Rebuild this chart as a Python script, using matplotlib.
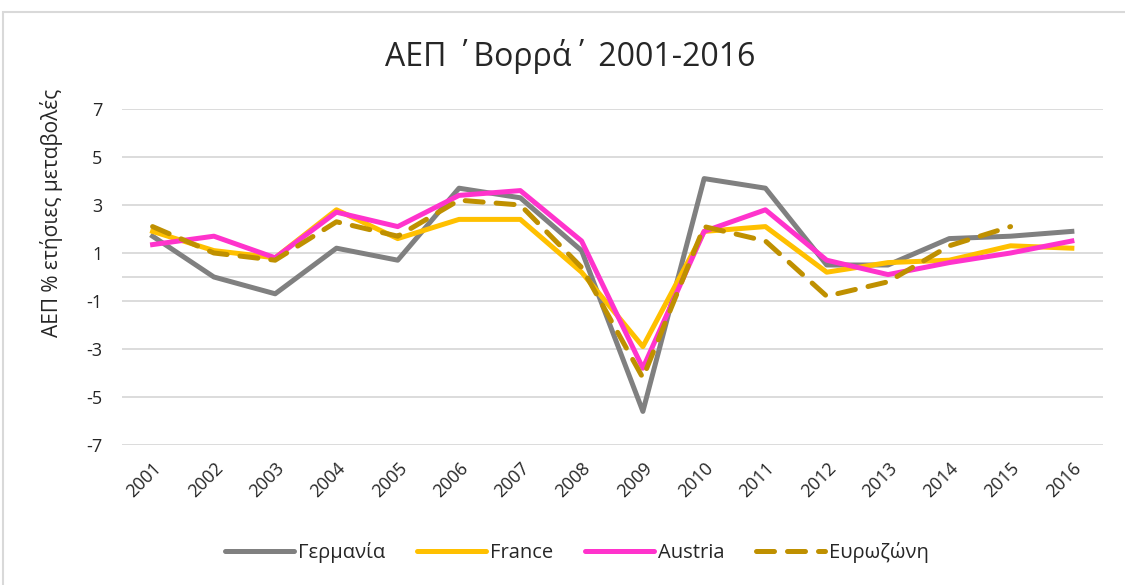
import numpy as np
import matplotlib.pyplot as plt
from matplotlib.patches import Rectangle

plt.rcParams['font.family'] = ['Open Sans', 'DejaVu Sans']

# Dati
years = [str(y) for y in range(2001, 2017)]
germany = [1.7, 0.0, -0.7, 1.2, 0.7, 3.7, 3.3, 1.1, -5.6, 4.1, 3.7, 0.5, 0.5, 1.6, 1.7, 1.9]
france = [1.9, 1.1, 0.8, 2.8, 1.6, 2.4, 2.4, 0.2, -2.9, 1.9, 2.1, 0.2, 0.6, 0.7, 1.3, 1.2]
austria = [1.35, 1.7, 0.8, 2.7, 2.1, 3.4, 3.6, 1.5, -3.8, 1.9, 2.8, 0.7, 0.1, 0.6, 1.0, 1.5]
eurozone = [2.1, 1.0, 0.7, 2.3, 1.7, 3.2, 3.0, 0.4, -4.2, 2.1, 1.5, -0.8, -0.2, 1.3, 2.1, np.nan]
yticks = [-7, -5, -3, -1, 1, 3, 5, 7]

grid_col = '#D9D9D9'
txt_col = '#262626'

fig = plt.figure(figsize=(11.25, 5.85), dpi=100)
ax = fig.add_axes([0.1084, 0.2393, 0.8716, 0.5744])

x = np.arange(len(years))
lw = 3.6
ax.plot(x, germany, color='#808080', linewidth=lw, label='Γερμανία')
ax.plot(x, france, color='#FFC000', linewidth=lw, label='France')
ax.plot(x, austria, color='#FF33CC', linewidth=lw, label='Austria')
ax.plot(x, eurozone, color='#BF9000', linewidth=lw, label='Ευρωζώνη',
        dashes=(3.6, 2.6), dash_capstyle='round')

# griglia
for v in yticks:
    ax.axhline(v, color=grid_col, linewidth=1.3, zorder=0)
ax.axhline(0, color=grid_col, linewidth=1.3, zorder=0)

ax.set_xlim(-0.5, len(years) - 0.5)
ax.set_ylim(-7, 7)
ax.set_yticks(yticks)
ax.set_yticklabels([str(v) for v in yticks], fontsize=13, color=txt_col)
ax.set_xticks(x)
ax.set_xticklabels(years, rotation=45, ha='right', rotation_mode='anchor',
                   fontsize=13, color=txt_col)
ax.tick_params(axis='y', length=0, pad=14)
ax.tick_params(axis='x', length=0, pad=10)
for s in ax.spines.values():
    s.set_visible(False)

ax.set_ylabel('ΑΕΠ % ετήσιες μεταβολές', fontsize=15, color=txt_col)
ax.yaxis.set_label_coords(-0.06, 0.69)

fig.text(0.507, 0.903, 'ΑΕΠ ΄Βορρά΄ 2001-2016', ha='center', va='center',
         fontsize=23, color=txt_col)

leg = fig.legend(loc='center', bbox_to_anchor=(0.513, 0.055), ncol=4, frameon=False,
                 fontsize=14.5, handlelength=3.4, columnspacing=1.6, handletextpad=0.2,
                 labelcolor=txt_col)
for h in leg.get_lines():
    h.set_solid_capstyle('round')

# cornice
fig.patches.append(Rectangle((3 / 1125, -0.01), 1.0, 1 - 12 / 585 + 0.01,
                             transform=fig.transFigure, fill=False,
                             edgecolor=grid_col, linewidth=1.5))

plt.savefig('out.png', dpi=100)
